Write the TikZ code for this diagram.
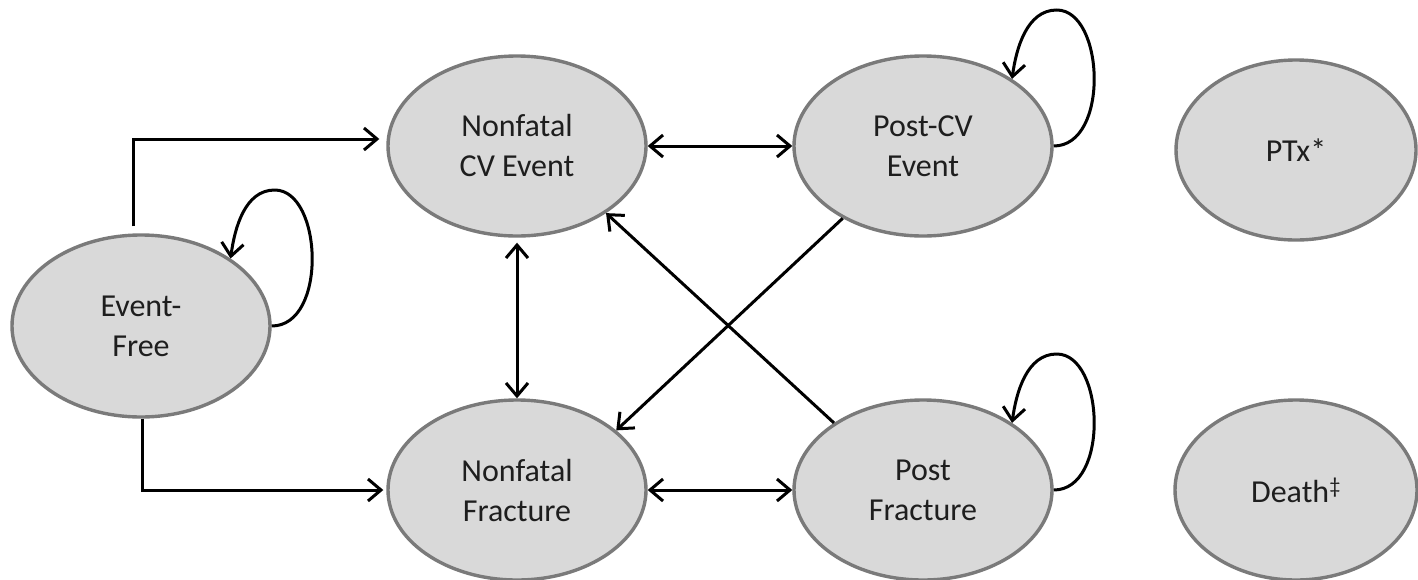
\documentclass[tikz,border=0pt]{standalone}
\usepackage{fontspec}
\setmainfont{Carlito}
\usetikzlibrary{shapes.geometric,arrows.meta}
\definecolor{stategray}{HTML}{7A7A7A}
\definecolor{statefill}{HTML}{D9D9D9}
\definecolor{textcol}{HTML}{1E1E1E}
\newcommand\selfloop[1]{\draw[arr] (#1.east) .. controls +(56,0) and +(48,0) .. ([shift={(3pt,136pt)}]#1.east) .. controls +(-30,0) and +(4,-30) .. (#1.37);}
\begin{document}
\begin{tikzpicture}[x=1pt,y=-1pt,
  state/.style={ellipse, draw=stategray, line width=3.4pt, fill=statefill,
    minimum width=258pt, minimum height=180pt, inner sep=0pt, align=center,
    font=\fontsize{32}{40}\selectfont, text=textcol},
  arr/.style={line width=3pt, -{Straight Barb[length=13pt,width=22pt]}},
  darr/.style={line width=3pt, {Straight Barb[length=13pt,width=22pt]}-{Straight Barb[length=13pt,width=22pt]}},
]
\useasboundingbox (0,0) rectangle (1418,579);
\fill[white] (0,0) rectangle (1418,579);

\node[state, minimum height=182pt] (EF) at (141,326) {Event-\\Free};
\node[state] (NCV) at (517,146) {Nonfatal\\CV Event};
\node[state] (PCV) at (923,146) {Post-CV\\Event};
\node[state] (NF) at (517,490) {Nonfatal\\Fracture};
\node[state] (PF) at (923,490) {Post\\Fracture};
\node[state, minimum width=240pt] (PTX) at (1296,150) {PTx*};
\node[state, minimum width=242pt] (DEATH) at (1296,490) {Death\textsuperscript{‡}};

\draw[arr] ([shift={(-8pt,7pt)}]EF.north) |- ([shift={(-7pt,7pt)}]NCV.west);
\draw[arr] ([xshift=1pt]EF.south) |- ([xshift=-3pt]NF.west);

\draw[darr] (NCV.east) -- (PCV.west);
\draw[darr] (NF.east) -- (PF.west);
\draw[darr] ([yshift=-5pt]NCV.south) -- (NF.north);

\draw[arr] (PCV.222) -- (NF.31);
\draw[arr] (PF.143) -- (NCV.-37);

\selfloop{EF}
\selfloop{PCV}
\selfloop{PF}
\end{tikzpicture}
\end{document}
